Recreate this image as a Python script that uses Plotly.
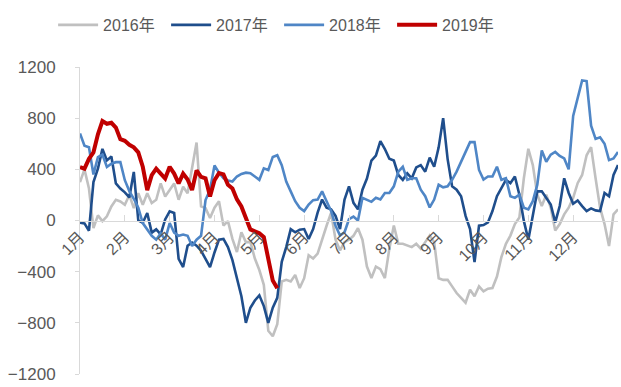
import numpy as np
import plotly.graph_objects as go

# Month labels on the category axis
months = ["1月", "2月", "3月", "4月", "5月", "6月", "7月", "8月", "9月", "10月", "11月", "12月"]

# Sampling step of the series, in months (10 samples per month)
step = 0.1

y2016 = [300, 400, 250, -60, 40, -5, 33, 110, 162, 149,
         123, 200, 97, 213, 123, 213, 136, 162, 290, 187,
         238, 290, 162, 264, 213, 420, 610, 110, 97, 20,
         100, 150, -40, -5, -144, -246, -92, -169, -169, -297,
         -387, -503, -862, -905, -810, -477, -464, -477, -426, -528,
         -451, -272, -297, -259, -144, -41, 60, -150, -233, -169,
         -150, -120, -60, -150, -360, -450, -360, -380, -450, -220,
         -40, -182, -182, -195, -208, -182, -220, -169, -118, -169,
         -451, -464, -464, -515, -567, -605, -643, -541, -592, -515,
         -554, -533, -528, -438, -285, -182, -118, -28, 23, 330,
         561, 433, 202, 113, 202, 100, -79, -28, 48, 100,
         177, 292, 356, 510, 574, 330, 100, -28, -200, 48,
         87]

y2017 = [-18, -23, -80, 300, 405, 560, 470, 500, 290, 250,
         220, 180, 380, 0, -18, 59, -95, -69, -108, 8,
         72, 59, -300, -364, -197, -172, -197, -236, -300, -364,
         -250, -150, -144, -208, -310, -451, -592, -800, -682, -625,
         -585, -669, -800, -682, -605, -323, -208, -67, -92, -72,
         -67, -144, -67, 62, 164, 100, 87, 36, -67, 164,
         267, 138, 87, 241, 328, 469, 508, 620, 559, 482,
         469, 356, 318, 369, 330, 415, 433, 382, 492, 420,
         572, 800, 480, 267, 241, 190, 36, -67, -326, -41,
         -36, -15, 74, 190, 259, 318, 292, 344, 202, -3,
         -150, 48, 228, 228, 177, 125, -15, 113, 330, 215,
         131, 156, 113, 74, 95, 79, 74, 215, 190, 356,
         433]

y2018 = [680, 585, 572, 360, 495, 515, 418, 444, 456, 456,
         315, 230, 170, 100, -20, -70, -120, -150, -100, -150,
         -20, -95, -120, -110, -120, -200, -150, -120, 160, 240,
         430, 374, 330, 313, 305, 344, 364, 374, 369, 344,
         318, 408, 395, 497, 510, 433, 305, 228, 151, 100,
         74, 125, 159, 164, 228, 151, 74, -41, -118, -92,
         10, 31, 0, 177, 164, 146, 177, 164, 215, 215,
         267, 382, 420, 318, 330, 330, 241, 190, 102, 164,
         279, 259, 267, 318, 382, 459, 536, 613, 613, 395,
         320, 344, 344, 420, 318, 330, 190, 177, 202, 100,
         87, 151, 280, 548, 459, 515, 536, 505, 485, 400,
         818, 946, 1095, 1090, 741, 638, 651, 600, 472, 485,
         536]

y2019 = [418, 405, 482, 533, 674, 777, 756, 764, 726, 636,
         623, 592, 572, 533, 420, 238, 354, 405, 367, 328,
         420, 367, 290, 367, 320, 238, 392, 341, 330, 187,
         315, 370, 360, 280, 250, 165, 110, 20, -70, -85,
         -100, -130, -320, -470, -530]

series = [
    ("2016年", y2016, "#C0C0C0", 2.6),
    ("2017年", y2017, "#1F4E8C", 2.6),
    ("2018年", y2018, "#4F86C6", 2.6),
    ("2019年", y2019, "#C00000", 4),
]

fig = go.Figure()
for name, vals, color, width in series:
    x = np.arange(len(vals)) * step
    fig.add_trace(go.Scatter(
        x=x, y=vals, mode="lines", name=name,
        line=dict(color=color, width=width),
        hoverinfo="skip",
    ))

font_family = "Liberation Sans, Arial, Noto Sans CJK SC, sans-serif"
axis_color = "#D9D9D9"
text_color = "#595959"

fig.update_layout(
    width=621, height=387,
    margin=dict(l=80, r=3, t=67, b=9),
    paper_bgcolor="white", plot_bgcolor="white",
    font=dict(family=font_family, color=text_color),
    showlegend=True,
    legend=dict(
        orientation="h", x=-0.05, xanchor="left", y=1.137, yanchor="middle",
        font=dict(size=16, color=text_color, family=font_family),
        itemwidth=40, entrywidth=58, bgcolor="rgba(0,0,0,0)",
    ),
    xaxis=dict(
        range=[0, 12], tickmode="array",
        tickvals=list(range(len(months))), ticktext=months,
        tickangle=-45, tickfont=dict(size=16, color=text_color),
        ticks="inside", ticklen=6, tickcolor=axis_color,
        showline=True, linecolor=axis_color, linewidth=1,
        showgrid=False, zeroline=False,
        anchor="free", position=0.5,
    ),
    yaxis=dict(
        range=[-1200, 1200], tickmode="array",
        tickvals=[-1200, -800, -400, 0, 400, 800, 1200],
        tickfont=dict(size=17, color=text_color),
        ticks="outside", ticklen=4, tickcolor=axis_color,
        showline=True, linecolor=axis_color, linewidth=1,
        showgrid=False, zeroline=False,
        ticklabelstandoff=16, ticklabeloverflow="allow",
    ),
)

fig.write_html("out.html")
